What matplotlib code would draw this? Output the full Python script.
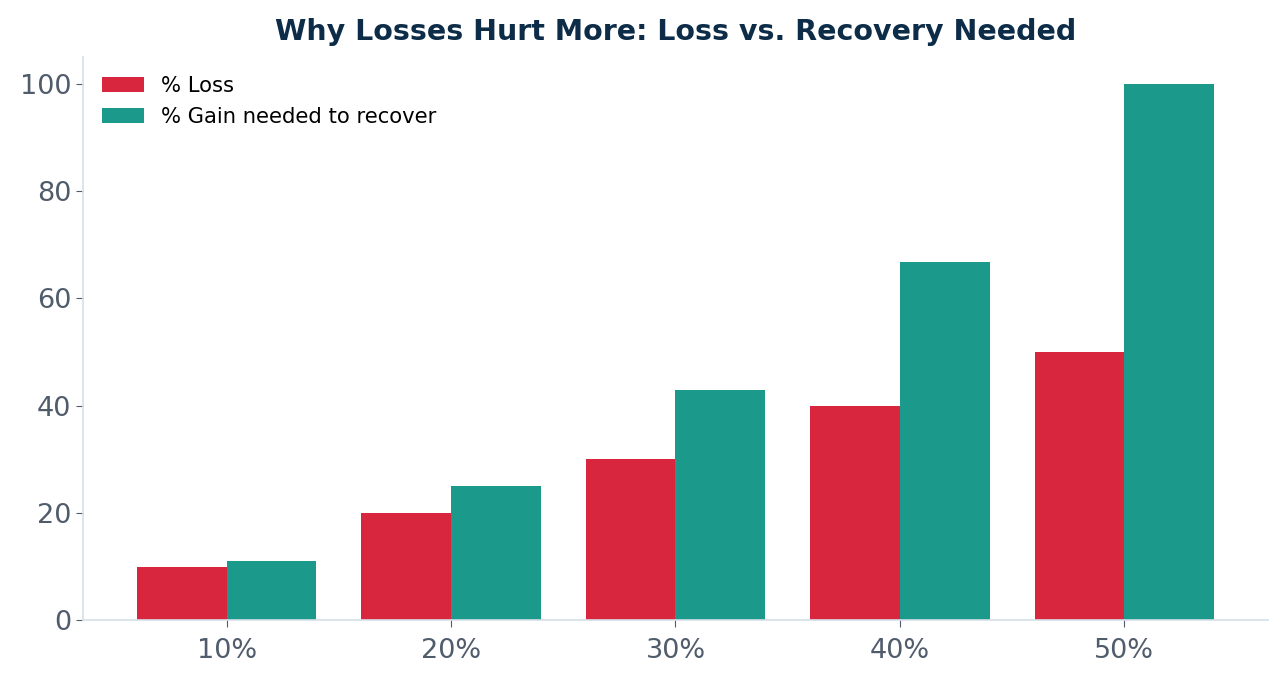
import matplotlib
matplotlib.use("Agg")
import matplotlib.pyplot as plt
import numpy as np

categories = ["10%", "20%", "30%", "40%", "50%"]
loss = [10, 20, 30, 40, 50]
gain_needed = [11.1, 25.0, 42.9, 66.7, 100.0]

fig, ax = plt.subplots(figsize=(12.86, 6.8), dpi=100)
fig.subplots_adjust(left=0.0645, right=0.986, top=0.916, bottom=0.088)

x = np.arange(len(categories))
w = 0.4
ax.bar(x - w/2, loss, w, color="#d7263d", label="% Loss")
ax.bar(x + w/2, gain_needed, w, color="#1b998b", label="% Gain needed to recover")

ax.set_xticks(x)
ax.set_xticklabels(categories)
ax.set_yticks([0, 20, 40, 60, 80, 100])
ax.tick_params(axis="both", labelsize=19.5, labelcolor="#505c6c", color="#505c6c", length=5)
ax.tick_params(axis="x", pad=8)
for s in ["top", "right"]:
    ax.spines[s].set_visible(False)
for s in ["left", "bottom"]:
    ax.spines[s].set_color("#d5dfe9")
    ax.spines[s].set_linewidth(1.2)

ax.set_title("Why Losses Hurt More: Loss vs. Recovery Needed", fontsize=20.5,
             fontweight="bold", color="#0d2c48", pad=12)
ax.legend(frameon=False, fontsize=15.2, loc="upper left")

fig.savefig("out.png", dpi=100, facecolor="white")
